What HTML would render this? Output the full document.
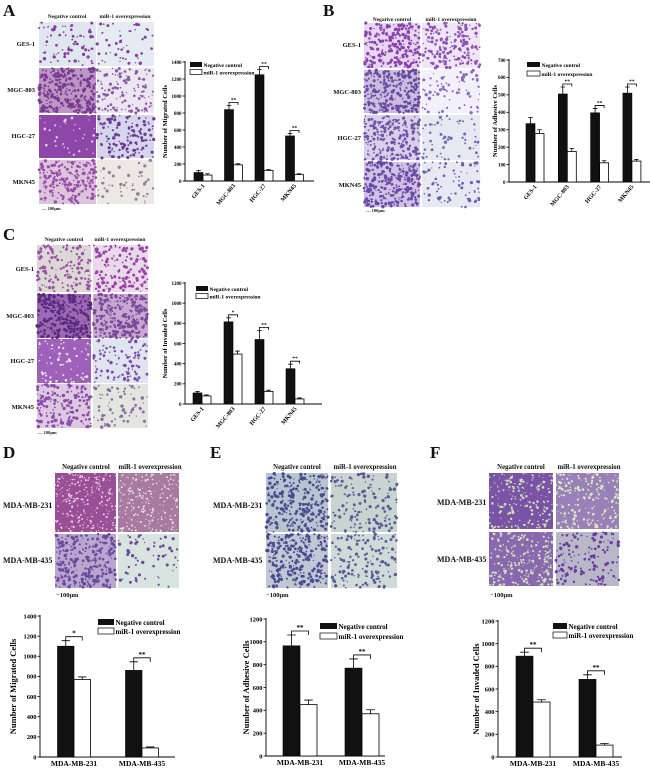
<!DOCTYPE html>
<html><head><meta charset="utf-8"><style>
html,body{margin:0;padding:0;background:#fff}
svg{display:block;font-family:"Liberation Serif",serif}
</style></head><body>
<svg id="fig" width="650" height="774" viewBox="0 0 650 774" xmlns="http://www.w3.org/2000/svg">
<g id="tiles"></g>
<g id="texts" font-weight="bold" fill="#111">
 <text x="3" y="16" font-size="17">A</text>
 <text x="323" y="16" font-size="17">B</text>
 <text x="3" y="240" font-size="17">C</text>
 <text x="3" y="458" font-size="17">D</text>
 <text x="210" y="458" font-size="17">E</text>
 <text x="430" y="458" font-size="17">F</text>

 <g font-size="5.5">
  <text x="67" y="18" text-anchor="middle">Negative control</text>
  <text x="125" y="18" text-anchor="middle">miR-1 overexpression</text>
 </g>
 <g font-size="6.5" text-anchor="end">
  <text x="35" y="46">GES-1</text><text x="35" y="92">MGC-803</text><text x="35" y="138">HGC-27</text><text x="35" y="184">MKN45</text>
 </g>
 <text x="42" y="210" font-size="4.5">— 100μm</text>

 <g font-size="5.5">
  <text x="392" y="21" text-anchor="middle">Negative control</text>
  <text x="451" y="21" text-anchor="middle">miR-1 overexpression</text>
 </g>
 <g font-size="6.5" text-anchor="end">
  <text x="361" y="47">GES-1</text><text x="361" y="94">MGC-803</text><text x="361" y="140">HGC-27</text><text x="361" y="187">MKN45</text>
 </g>
 <text x="366" y="212" font-size="4.5">— 100μm</text>

 <g font-size="5.5">
  <text x="64" y="241" text-anchor="middle">Negative control</text>
  <text x="120" y="241" text-anchor="middle">miR-1 overexpression</text>
 </g>
 <g font-size="6.5" text-anchor="end">
  <text x="34" y="271">GES-1</text><text x="34" y="318">MGC-803</text><text x="34" y="363">HGC-27</text><text x="34" y="409">MKN45</text>
 </g>
 <text x="38" y="434" font-size="4.5">— 100μm</text>

 <g font-size="6.8">
  <text x="86" y="469" text-anchor="middle">Negative control</text>
  <text x="150" y="469" text-anchor="middle">miR-1 overexpression</text>
 </g>
 <g font-size="8">
  <text x="3" y="508">MDA-MB-231</text><text x="3" y="563">MDA-MB-435</text>
 </g>
 <text x="56" y="597" font-size="6.5">−100μm</text>

 <g font-size="6.8">
  <text x="297" y="469" text-anchor="middle">Negative control</text>
  <text x="365" y="469" text-anchor="middle">miR-1 overexpression</text>
 </g>
 <g font-size="8">
  <text x="213" y="508">MDA-MB-231</text><text x="213" y="563">MDA-MB-435</text>
 </g>
 <text x="266" y="597" font-size="6.5">−100μm</text>

 <g font-size="6.8">
  <text x="521" y="469" text-anchor="middle">Negative control</text>
  <text x="589" y="469" text-anchor="middle">miR-1 overexpression</text>
 </g>
 <g font-size="8">
  <text x="437" y="505">MDA-MB-231</text><text x="437" y="562">MDA-MB-435</text>
 </g>
 <text x="490" y="597" font-size="6.5">−100μm</text>
</g>
<g id="charts"></g>
</svg>
<script>
// ---- chart data ----
const aCats = ["GES-1","MGC-803","HGC-27","MKN45"];
const aNeg = [100,840,1250,530];
const aNegErr = [25,50,60,30];
const aMir = [70,190,125,75];
const aMirErr = [15,12,10,10];
const aSig = ["","**","**","**"];
const aTicks = [0,200,400,600,800,1000,1200,1400];

const bCats = ["GES-1","MGC-803","HGC-27","MKN45"];
const bNeg = [335,505,397,510];
const bNegErr = [35,40,25,35];
const bMir = [278,175,110,120];
const bMirErr = [22,18,12,10];
const bSig = ["","**","**","**"];
const bTicks = [0,100,200,300,400,500,600,700];

const cCats = ["GES-1","MGC-803","HGC-27","MKN45"];
const cNeg = [110,815,640,350];
const cNegErr = [15,40,90,45];
const cMir = [80,495,125,50];
const cMirErr = [10,30,12,10];
const cSig = ["","*","**","**"];
const cTicks = [0,200,400,600,800,1000,1200];

const dCats = ["MDA-MB-231","MDA-MB-435"];
const dNeg = [1100,860];
const dNegErr = [55,85];
const dMir = [770,90];
const dMirErr = [25,10];
const dSig = ["*","**"];
const dTicks = [0,200,400,600,800,1000,1200,1400];

const eCats = ["MDA-MB-231","MDA-MB-435"];
const eNeg = [965,770];
const eNegErr = [95,80];
const eMir = [450,370];
const eMirErr = [40,35];
const eSig = ["**","**"];
const eTicks = [0,200,400,600,800,1000,1200];

const fCats = ["MDA-MB-231","MDA-MB-435"];
const fNeg = [890,685];
const fNegErr = [35,40];
const fMir = [485,105];
const fMirErr = [20,15];
const fSig = ["**","**"];
const fTicks = [0,200,400,600,800,1000,1200];

const NS = "http://www.w3.org/2000/svg";
function mk(tag, attrs, parent){
  const e = document.createElementNS(NS, tag);
  for (const k in attrs) e.setAttribute(k, attrs[k]);
  parent.appendChild(e);
  return e;
}

// ---- microscopy tiles (decorative textures) ----
let seed = 12345;
function rnd(){ seed = (seed*16807) % 2147483647; return seed/2147483647; }
const tilesG = document.getElementById('tiles');
function tile(name, x, y, w, h, bg, dot, n, rs){
  const g = mk('g', {}, tilesG);
  
  
  mk('rect', {x:x, y:y, width:w, height:h, fill:bg}, g);
  const s = rs || 1;
  for (let i=0;i<n;i++){
    mk('circle', {cx:(x+rnd()*w).toFixed(1), cy:(y+rnd()*h).toFixed(1), r:((0.6+rnd()*1.1)*s).toFixed(2), fill:dot}, g);
  }
}
// A
tile('a-ges1-neg',39,22,57,44,'#dfe6ee','#8a3ca0',70);
tile('a-ges1-mir',97,22,57,44,'#e4ecf2','#8a3ca0',50);
tile('a-mgc-neg',39,68,57,45,'#bc96c4','#7a3a90',280);
tile('a-mgc-mir',97,68,57,45,'#ece6f0','#8a5aa8',110);
tile('a-hgc-neg',39,115,57,43,'#8e46a8','#e0d4ea',35,0.8);
tile('a-hgc-mir',97,115,57,43,'#d6d6ea','#6a3a9a',140);
tile('a-mkn-neg',39,160,57,44,'#dcc4dc','#9a4aa8',190);
tile('a-mkn-mir',97,160,57,44,'#ece9e4','#9a7aa0',50);
// B
tile('b-ges1-neg',364,23,56,45,'#e6d6ee','#8a40b0',230);
tile('b-ges1-mir',422,23,58,45,'#eee6f2','#9050b8',180);
tile('b-mgc-neg',364,70,56,43,'#cabde0','#6a4aa0',280);
tile('b-mgc-mir',422,70,58,43,'#f2f0f8','#8a6ac0',70);
tile('b-hgc-neg',364,115,56,45,'#d8cfe8','#7050a8',230);
tile('b-hgc-mir',422,115,58,45,'#e6e8f2','#6a6ab0',55);
tile('b-mkn-neg',364,162,56,45,'#d0c2e2','#6a48a8',280);
tile('b-mkn-mir',422,162,58,45,'#e8e8f2','#6a60b0',80);
// C
tile('c-ges1-neg',37,245,54,47,'#dcd8d6','#9a50a8',140);
tile('c-ges1-mir',93,245,55,47,'#e8dae8','#9a40a8',140);
tile('c-mgc-neg',37,294,54,44,'#9c6ab2','#5a2a80',280);
tile('c-mgc-mir',93,294,55,44,'#c8a8d0','#7a4a9a',260);
tile('c-hgc-neg',37,339,54,44,'#9e60b8','#f0e8f4',70,0.8);
tile('c-hgc-mir',93,339,55,44,'#e0e4ee','#7a4aa8',90);
tile('c-mkn-neg',37,384,54,44,'#dcc8e0','#8a4aa8',180);
tile('c-mkn-mir',93,384,55,44,'#e2e6de','#8a6aa8',70);
// D
tile('d-231-neg',55,473,61,59,'#9a4e96','#e8d8e8',260,0.6);
tile('d-231-mir',118,473,61,59,'#a87aa0','#ece4ea',220,0.6);
tile('d-435-neg',55,534,61,54,'#b8a8d0','#6a4a9a',280);
tile('d-435-mir',118,534,61,54,'#d8e4e0','#6a4a9a',60);
// E
tile('e-231-neg',266,473,62,59,'#b8c4d0','#4a4a90',280);
tile('e-231-mir',331,473,66,59,'#c8d4d0','#5a5a98',140);
tile('e-435-neg',266,534,62,54,'#c0c8d4','#4a4a90',280);
tile('e-435-mir',331,534,66,54,'#d0dad8','#5a5a98',140);
// F
tile('f-231-neg',489,473,64,56,'#7a52a8','#c8e4b0',190,0.8);
tile('f-231-mir',556,473,63,56,'#9a80b8','#d8ecc0',190,0.8);
tile('f-435-neg',489,532,64,54,'#8a68b0','#d0e6b8',230,0.8);
tile('f-435-mir',556,532,63,54,'#b8b8c8','#6a3aa0',140);

// ---- charts ----
const chartsG = document.getElementById('charts');
function chart(o, cats, neg, negE, mir, mirE, sig, ticks){
  const g = mk('g', {}, chartsG);
  
  
  const maxV = ticks[ticks.length-1];
  const ys = v => o.y0 - (v/maxV)*(o.y0 - o.yTop);
  const xc = i => o.c0 + i*o.step;
  const bw = o.bw;
  const ax = mk('path', {d:`M${o.ax},${o.yTop-1}V${o.y0}H${o.xEnd}`, stroke:'#000', 'stroke-width':0.9, fill:'none'}, g);
  
  
  ticks.forEach(t => {
    const y = ys(t);
    mk('line', {x1:o.ax-2.5, x2:o.ax, y1:y, y2:y, stroke:'#000', 'stroke-width':0.8}, g);
    const tl = mk('text', {x:o.ax-3.5, y:y+o.tf*0.35, 'font-size':o.tf, 'text-anchor':'end', 'font-weight':'bold'}, g);
    tl.textContent = t;
    
    
  });
  const yt = mk('text', {x:0, y:0, 'font-size':o.yf, 'font-weight':'bold', 'text-anchor':'middle', transform:`translate(${o.ytx},${(o.y0+o.yTop)/2}) rotate(-90)`}, g);
  yt.textContent = o.ytitle;
  
  
  cats.forEach((c, i) => {
    const cx = xc(i);
    const yn = ys(neg[i]), ym = ys(mir[i]);
    const ye = ys(neg[i]+negE[i]), yme = ys(mir[i]+mirE[i]);
    const b1 = mk('rect', {x:cx-bw, y:yn, width:bw, height:o.y0-yn, fill:'#111', stroke:'#000', 'stroke-width':0.6}, g);
    
    
    const b2 = mk('rect', {x:cx, y:ym, width:bw, height:o.y0-ym, fill:'#fff', stroke:'#000', 'stroke-width':0.8}, g);
    
    
    const cap = bw*0.25;
    mk('path', {d:`M${cx-bw/2},${yn}V${ye}M${cx-bw/2-cap},${ye}H${cx-bw/2+cap}`, stroke:'#000', 'stroke-width':0.8, fill:'none'}, g);
    mk('path', {d:`M${cx+bw/2},${ym}V${yme}M${cx+bw/2-cap},${yme}H${cx+bw/2+cap}`, stroke:'#000', 'stroke-width':0.8, fill:'none'}, g);
    if (sig[i]){
      const top = Math.min(ye, yme) - o.sg;
      const br = mk('path', {d:`M${cx-bw/2},${top+o.sd}V${top}H${cx+bw/2}V${top+o.sd}`, stroke:'#000', 'stroke-width':0.8, fill:'none'}, g);
      
      
      const st = mk('text', {x:cx, y:top-1, 'font-size':o.sf, 'text-anchor':'middle', 'font-weight':'bold'}, g);
      st.textContent = sig[i];
      
      
    }
    let xl;
    if (o.rot){
      xl = mk('text', {x:0, y:0, 'font-size':o.xf, 'font-weight':'bold', 'text-anchor':'end', transform:`translate(${cx+2},${o.y0+5}) rotate(-50)`}, g);
    } else {
      xl = mk('text', {x:cx, y:o.y0+o.xf+1.5, 'font-size':o.xf, 'font-weight':'bold', 'text-anchor':'middle'}, g);
    }
    xl.textContent = c;
    
    
  });
  const lg = mk('g', {}, g);
  
  
  mk('rect', {x:o.lx, y:o.ly, width:o.lw, height:o.lh, fill:'#111'}, lg);
  mk('rect', {x:o.lx, y:o.ly+o.lsp, width:o.lw, height:o.lh, fill:'#fff', stroke:'#000', 'stroke-width':0.7}, lg);
  const l1 = mk('text', {x:o.lx+o.lw+1.5, y:o.ly+o.lh, 'font-size':o.lf, 'font-weight':'bold'}, lg);
  l1.textContent = 'Negative control';
  const l2 = mk('text', {x:o.lx+o.lw+1.5, y:o.ly+o.lsp+o.lh, 'font-size':o.lf, 'font-weight':'bold'}, lg);
  l2.textContent = 'miR-1 overexpression';
}

chart({name:'chart-a-migrated', ax:185, y0:181, yTop:62, xEnd:314, c0:203, step:30.5, bw:9, tf:5, yf:6.5, ytx:167, ytitle:'Number of Migrated Cells', sg:3, sd:2.5, sf:5.5, xf:6, rot:true, lx:190, ly:62, lw:12, lh:5, lsp:7.5, lf:5.5}, aCats, aNeg, aNegErr, aMir, aMirErr, aSig, aTicks);
chart({name:'chart-b-adhesive', ax:509, y0:182, yTop:60, xEnd:650, c0:535, step:32.3, bw:9, tf:5, yf:6.5, ytx:497, ytitle:'Number of Adhesive Cells', sg:3, sd:2.5, sf:5.5, xf:6, rot:true, lx:527, ly:62, lw:13, lh:5, lsp:9, lf:5.5}, bCats, bNeg, bNegErr, bMir, bMirErr, bSig, bTicks);
chart({name:'chart-c-invaded', ax:185, y0:404, yTop:283, xEnd:322, c0:202, step:31, bw:9, tf:5, yf:6.5, ytx:167, ytitle:'Number of Invaded Cells', sg:3, sd:2.5, sf:5.5, xf:6, rot:true, lx:196, ly:286, lw:12, lh:5, lsp:7.5, lf:5.5}, cCats, cNeg, cNegErr, cMir, cMirErr, cSig, cTicks);
chart({name:'chart-d-migrated', ax:40, y0:757, yTop:616, xEnd:175, c0:74, step:68, bw:16.5, tf:6.5, yf:8.5, ytx:16, ytitle:'Number of Migrated Cells', sg:4, sd:4, sf:7, xf:7.5, rot:false, lx:98, ly:619, lw:16, lh:6, lsp:9, lf:7}, dCats, dNeg, dNegErr, dMir, dMirErr, dSig, dTicks);
chart({name:'chart-e-adhesive', ax:266, y0:756, yTop:619, xEnd:385, c0:300, step:62, bw:17, tf:6.5, yf:8.5, ytx:249, ytitle:'Number of Adhesive Cells', sg:4, sd:4, sf:7, xf:7.5, rot:false, lx:320, ly:623, lw:17, lh:6, lsp:10, lf:7}, eCats, eNeg, eNegErr, eMir, eMirErr, eSig, eTicks);
chart({name:'chart-f-invaded', ax:498, y0:757, yTop:621, xEnd:622, c0:533, step:63, bw:17, tf:6.5, yf:8.5, ytx:479, ytitle:'Number of Invaded Cells', sg:4, sd:4, sf:7, xf:7.5, rot:false, lx:553, ly:623, lw:14, lh:6, lsp:9, lf:7}, fCats, fNeg, fNegErr, fMir, fMirErr, fSig, fTicks);
</script>
</body></html>
